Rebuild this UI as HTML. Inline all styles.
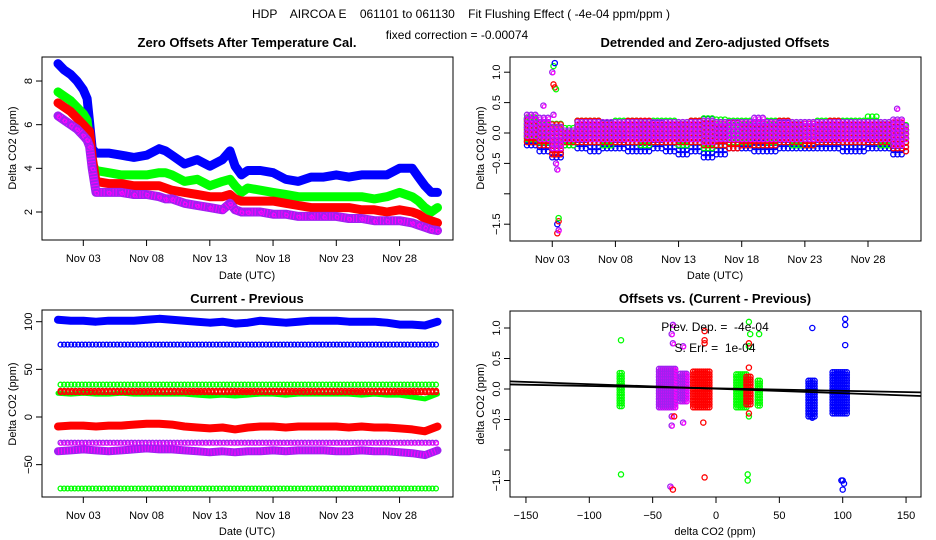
<!DOCTYPE html>
<html><head><meta charset="utf-8"><style>
html,body{margin:0;padding:0;background:#fff;}
svg{display:block;font-family:"Liberation Sans",sans-serif;}
.t{font-size:12px;fill:#000;white-space:pre}
.pt{font-size:13px;font-weight:bold;fill:#000}
.tk{font-size:11px;fill:#000}
</style></head><body>
<svg id="root" width="936" height="540" viewBox="0 0 936 540">
<defs>
<clipPath id="c1"><rect x="42" y="57" width="411" height="183"/></clipPath>
<clipPath id="c2"><rect x="510" y="57" width="411" height="184"/></clipPath>
<clipPath id="c3"><rect x="42" y="310" width="411" height="187"/></clipPath>
<clipPath id="c4"><rect x="510" y="311" width="411" height="186"/></clipPath>
</defs>
<text class="t" x="461" y="18" text-anchor="middle" xml:space="preserve">HDP    AIRCOA E    061101 to 061130    Fit Flushing Effect ( -4e-04 ppm/ppm )</text>
<text class="t" x="457" y="39" text-anchor="middle">fixed correction = -0.00074</text>
<text class="pt" x="247" y="47" text-anchor="middle">Zero Offsets After Temperature Cal.</text>
<text class="pt" x="715" y="47" text-anchor="middle">Detrended and Zero-adjusted Offsets</text>
<text class="pt" x="247" y="303" text-anchor="middle">Current - Previous</text>
<text class="pt" x="715" y="303" text-anchor="middle">Offsets vs. (Current - Previous)</text>
</svg>
<script>
// ---------- DATA ----------
const days1 = [1,1.5,2,2.5,3,3.3,3.5,3.7,4,5,6,7,8,9,9.5,10,11,12,13,14,14.6,15,15.5,16,17,18,19,20,21,22,23,24,25,26,27,28,29,29.5,30,30.5,31];
const zeroBlue = [8.8,8.5,8.3,8.0,7.6,7.2,6.1,4.9,4.7,4.7,4.6,4.5,4.6,4.9,4.8,4.6,4.2,4.4,4.1,4.4,4.8,4.1,3.7,3.9,3.9,3.8,3.5,3.4,3.6,3.6,3.7,3.6,3.7,3.7,3.7,4.0,4.0,3.6,3.2,2.9,2.9];
const zeroGreen = [7.5,7.3,7.1,6.8,6.5,6.2,5.2,4.2,3.9,3.8,3.7,3.7,3.7,3.8,3.8,3.7,3.4,3.5,3.2,3.4,3.5,3.2,2.9,3.1,3.0,2.9,2.8,2.7,2.7,2.7,2.7,2.7,2.7,2.6,2.7,2.9,2.7,2.5,2.2,2.0,2.2];
const zeroRed = [7.0,6.8,6.6,6.3,6.0,5.8,5.7,4.5,3.4,3.3,3.3,3.2,3.2,3.2,3.1,3.0,2.9,2.8,2.7,2.7,2.8,2.6,2.5,2.5,2.5,2.5,2.4,2.3,2.2,2.2,2.2,2.2,2.1,2.1,2.0,2.1,2.0,1.9,1.7,1.6,1.5];
const zeroPurple = [6.4,6.2,6.0,5.8,5.5,5.3,5.0,4.0,2.9,2.9,2.9,2.8,2.8,2.7,2.6,2.6,2.4,2.3,2.2,2.1,2.4,2.1,2.0,2.0,2.0,1.9,1.9,1.8,1.8,1.8,1.8,1.7,1.7,1.6,1.6,1.6,1.5,1.4,1.3,1.2,1.15];
const dateTicks = [3,8,13,18,23,28];
const dateLabels = ["Nov 03","Nov 08","Nov 13","Nov 18","Nov 23","Nov 28"];
const p1YTicks = [2,4,6,8];

const days2 = [1,2,3,4,5,6,7,8,9,10,11,12,13,14,15,16,17,18,19,20,21,22,23,24,25,26,27,28,29,30,31];
const residHiBlue = [.25,.1,.15,0,.1,.15,.2,.15,.2,.25,.2,.15,.2,.2,.25,.2,.2,.15,.15,.2,.2,.15,.15,.15,.15,.2,.15,.15,.15,.2,.1];
const residLoBlue = [-.2,-.3,-.4,-.2,-.25,-.3,-.25,-.25,-.3,-.3,-.25,-.3,-.35,-.3,-.4,-.35,-.25,-.25,-.3,-.3,-.25,-.25,-.25,-.25,-.25,-.3,-.3,-.25,-.25,-.35,-.3];
const residHiGreen = [.25,.15,.2,.1,.2,.2,.15,.2,.2,.2,.2,.2,.2,.25,.25,.25,.2,.2,.2,.2,.2,.2,.2,.2,.2,.2,.2,.3,.2,.2,.15];
const residLoGreen = [-.1,-.15,-.2,-.2,-.15,-.15,-.2,-.15,-.15,-.2,-.15,-.15,-.2,-.15,-.25,-.2,-.15,-.15,-.2,-.15,-.15,-.2,-.2,-.15,-.15,-.15,-.15,-.15,-.2,-.2,-.15];
const residHiRed = [.2,.15,.2,.05,.2,.2,.15,.15,.2,.2,.15,.15,.15,.2,.2,.2,.2,.2,.2,.2,.2,.15,.15,.15,.2,.15,.15,.15,.15,.2,.1];
const residLoRed = [-.15,-.2,-.35,-.15,-.15,-.15,-.15,-.15,-.15,-.15,-.15,-.15,-.15,-.15,-.2,-.2,-.25,-.2,-.2,-.2,-.15,-.15,-.2,-.15,-.15,-.15,-.15,-.15,-.15,-.25,-.3];
const residHiPurple = [.3,.3,.15,.1,.2,.2,.2,.2,.2,.2,.2,.2,.2,.2,.25,.2,.2,.2,.25,.2,.2,.2,.2,.2,.2,.2,.2,.2,.2,.25,.15];
const residLoPurple = [-.05,-.1,-.25,-.1,-.1,-.1,-.1,-.1,-.1,-.1,-.1,-.1,-.1,-.1,-.15,-.1,-.1,-.1,-.1,-.1,-.1,-.1,-.1,-.1,-.1,-.1,-.1,-.1,-.1,-.2,-.1];
const spikeT = [3.0,3.1,3.2,3.2,3.3,3.1,3.2,3.3,3.4,3.4,3.5,3.4,3.5,3.5,2.3,3.1,30.3];
const spikeV = [1.0,1.1,1.15,0.75,0.72,0.8,-0.35,-0.5,-0.6,-1.5,-1.45,-1.65,-1.6,-1.4,0.45,0.3,0.4];
const spikeColor = ["purple","green","blue","red","green","red","red","purple","purple","blue","red","red","purple","green","purple","purple","purple"];
const p2YTicks = [1.0,0.5,0.0,-0.5,-1.0,-1.5];
const p2YLabels = ["1.0","0.5","0.0","\u22120.5","","\u22121.5"];

const diffBlueMain = [102,101,101,100,101,101,101,102,103,102,101,100,99,100,98,99,101,100,99,100,101,101,101,100,100,100,99,97,97,96,100];
const diffRedMain = [-10,-9,-9,-10,-9,-9,-8,-7,-7,-8,-10,-11,-12,-11,-13,-11,-10,-10,-11,-10,-10,-10,-10,-11,-10,-11,-11,-12,-13,-15,-10];
const diffPurpleMain = [-36,-35,-34,-35,-36,-35,-34,-33,-34,-34,-35,-36,-37,-36,-37,-36,-36,-35,-36,-35,-35,-35,-36,-36,-35,-36,-36,-37,-38,-40,-35];
const diffGreen25 = [25,24,25,24,24,25,24,24,24,24,24,23,22,23,22,23,24,24,23,24,24,24,24,24,23,24,23,23,21,19,24];
const diffLevels = [76,34,26,-27,-75];
const diffLevelColor = ["blue","green","red","purple","green"];
const p3YTicks = [100,50,0,-50];

const clXlo = [-76,-45,-28,-18,16,24,33,73,92];
const clXhi = [-74,-31,-23,-5,25,28,36,78,104];
const clYlo = [-0.28,-0.3,-0.2,-0.3,-0.3,-0.25,-0.27,-0.45,-0.4];
const clYhi = [0.3,0.35,0.25,0.3,0.25,0.2,0.17,0.17,0.3];
const clColor = ["green","purple","purple","red","green","red","green","blue","blue"];
const outX = [-75,-75,-34,-35,-34,-26,-35,-35,-26,-36,-9,-9,-9,-10,-9,-34,-33,26,27,34,26,25,25,26,26,26,26,76,102,102,102,76,100,101,100,99];
const outY = [0.8,-1.4,1.05,0.9,0.75,0.7,-0.45,-0.6,-0.55,-1.6,0.95,0.8,0.75,-0.55,-1.45,-1.65,-0.45,1.1,0.9,0.9,-0.45,-1.4,-1.5,0.7,0.75,0.35,-0.4,1.0,1.15,1.05,0.72,-0.47,-1.5,-1.55,-1.65,-1.5];
const outColor = ["green","green","purple","purple","purple","purple","purple","purple","purple","purple","red","red","red","red","red","red","red","green","green","green","green","green","green","green","red","red","red","blue","blue","blue","blue","blue","blue","blue","blue","blue"];
const fitIntercept = [0.01,0.005];
const fitSlope = [-0.0004,-0.00074];
const p4XTicks = [-150,-100,-50,0,50,100,150];
const p4XLabels = ["\u2212150","\u2212100","\u221250","0","50","100","150"];

// ---------- HELPERS ----------
const NS = "http://www.w3.org/2000/svg";
const root = document.getElementById("root");
const COL = {blue:"#0000ff",green:"#00ff00",red:"#ff0000",purple:"#a020f0"};
function mk(tag, attrs, parent){
  const e = document.createElementNS(NS, tag);
  for (const k in attrs) e.setAttribute(k, attrs[k]);
  (parent||root).appendChild(e);
  return e;
}
function group(name, clip){
  const g = mk("g", clip ? {"clip-path":"url(#"+clip+")"} : {});
  
  
  return g;
}
function circ(g, x, y, color, r){
  const c = mk("circle", {cx:x.toFixed(1), cy:y.toFixed(1), r:r||2.6, fill:"none", stroke:COL[color], "stroke-width":1.3}, g);
  
  
  if (color === "purple") {
    const c2 = mk("circle", {cx:(x+0.8).toFixed(1), cy:(y+0.8).toFixed(1), r:1.8, fill:"none", stroke:"#ff00ff", "stroke-width":1}, g);
    
    
  }
}
function frame(name, x0, y0, x1, y1){
  const r = mk("rect", {x:x0, y:y0, width:x1-x0, height:y1-y0, fill:"none", stroke:"#000", "stroke-width":1});
  
  
}
function xAxis(name, vals, labels, fx, yb){
  const g = group(name);
  vals.forEach((v,i)=>{
    const x = fx(v);
    mk("line", {x1:x, x2:x, y1:yb, y2:yb+6, stroke:"#000"}, g);
    const t = mk("text", {x:x, y:yb+22, "text-anchor":"middle", class:"tk"}, g);
    t.textContent = labels[i];
    
    
  });
}
function yAxis(name, vals, labels, fy, xl){
  const g = group(name);
  vals.forEach((v,i)=>{
    const y = fy(v);
    mk("line", {x1:xl-6, x2:xl, y1:y, y2:y, stroke:"#000"}, g);
    const t = mk("text", {x:0, y:0, "text-anchor":"middle", class:"tk", transform:"translate("+(xl-10)+","+y+") rotate(-90)"}, g);
    t.textContent = labels[i];
    
    
  });
}
function label(name, txt, x, y, rot){
  const t = mk("text", {x:0, y:0, "text-anchor":"middle", class:"tk", transform:"translate("+x+","+y+")"+(rot?" rotate(-90)":"")});
  t.textContent = txt;
  
  
}

// ---------- PANEL 1 ----------
const x1 = d => 58 + (d-1)*12.65;
const y1 = v => 212 - (v-2)*21.83;
{
  const g = group("panel1-series", "c1");
  [[zeroBlue,"blue"],[zeroGreen,"green"],[zeroRed,"red"],[zeroPurple,"purple"]].forEach(([arr,col])=>{
    const pts = days1.map((d,i)=>x1(d).toFixed(1)+","+y1(arr[i]).toFixed(1)).join(" ");
    const pl = mk("polyline", {points:pts, fill:"none", stroke:COL[col], "stroke-width":9, "stroke-linejoin":"round", "stroke-linecap":"round"}, g);
    
    
    if (col==="purple") {
      const pl2 = mk("polyline", {points:pts, fill:"none", stroke:"#ff00ff", "stroke-width":7, "stroke-dasharray":"1 2"}, g);
      
      
    }
    days1.forEach((d,i)=>circ(g, x1(d), y1(arr[i]), col, 3));
  });
}
frame("panel1-frame", 42, 57, 453, 240);
xAxis("panel1-x-axis", dateTicks, dateLabels, x1, 240);
yAxis("panel1-y-axis", p1YTicks, p1YTicks.map(String), y1, 42);
label("panel1-x-title", "Date (UTC)", 247, 279);
label("panel1-y-title", "Delta CO2 (ppm)", 16, 148, true);

// ---------- PANEL 2 ----------
const x2 = d => 527 + (d-1)*12.63;
const y2 = v => 133 - v*60.8;
{
  const g = group("panel2-series", "c2");
  [[residHiBlue,residLoBlue,"blue"],[residHiGreen,residLoGreen,"green"],[residHiRed,residLoRed,"red"],[residHiPurple,residLoPurple,"purple"]].forEach(([hi,lo,col])=>{
    days2.forEach((d,i)=>{
      if (d >= 31) { for (let v=lo[i]; v<=hi[i]; v+=0.07) circ(g, x2(d), y2(v), col); return; }
      for (let s=0; s<3; s++) {
        for (let v=lo[i]; v<=hi[i]+1e-6; v+=0.07) circ(g, x2(d+s/3), y2(v), col);
      }
    });
  });
  spikeT.forEach((t,i)=>circ(g, x2(t), y2(spikeV[i]), spikeColor[i]));
}
frame("panel2-frame", 510, 57, 921, 241);
xAxis("panel2-x-axis", dateTicks, dateLabels, x2, 241);
yAxis("panel2-y-axis", p2YTicks, p2YLabels, y2, 510);
label("panel2-x-title", "Date (UTC)", 715, 279);
label("panel2-y-title", "Delta CO2 (ppm)", 484, 148, true);

// ---------- PANEL 3 ----------
const y3 = v => 417 - v*0.953;
{
  const g = group("panel3-series", "c3");
  diffLevels.forEach((lv,k)=>{
    for (let d=1.2; d<=31; d+=0.28) circ(g, x1(d), y3(lv), diffLevelColor[k], 2.4);
  });
  [[diffGreen25,"green"],[diffBlueMain,"blue"],[diffRedMain,"red"],[diffPurpleMain,"purple"]].forEach(([arr,col])=>{
    const pts = days2.map((d,i)=>x1(d).toFixed(1)+","+y3(arr[i]).toFixed(1)).join(" ");
    const pl = mk("polyline", {points:pts, fill:"none", stroke:COL[col], "stroke-width":col==="green"?5:8, "stroke-linejoin":"round", "stroke-linecap":"round"}, g);
    
    
    if (col==="purple") {
      const pl2 = mk("polyline", {points:pts, fill:"none", stroke:"#ff00ff", "stroke-width":6, "stroke-dasharray":"1 2"}, g);
      
      
    }
  });
  for (let d=1.2; d<=31; d+=0.3) { circ(g, x1(d), y3(26), "red", 2.4); circ(g, x1(d), y3(27.5), "red", 2.4); }
}
frame("panel3-frame", 42, 310, 453, 497);
xAxis("panel3-x-axis", dateTicks, dateLabels, x1, 497);
yAxis("panel3-y-axis", p3YTicks, p3YTicks.map(v=>v<0?"\u2212"+(-v):String(v)), y3, 42);
label("panel3-x-title", "Date (UTC)", 247, 535);
label("panel3-y-title", "Delta CO2 (ppm)", 16, 404, true);

// ---------- PANEL 4 ----------
const x4 = v => 716 + v*1.267;
const y4 = v => 389 - v*61;
{
  const g = group("panel4-series", "c4");
  clXlo.forEach((xl,k)=>{
    for (let xv=xl; xv<=clXhi[k]+1e-6; xv+=1.6)
      for (let yv=clYlo[k]; yv<=clYhi[k]+1e-6; yv+=0.045) circ(g, x4(xv), y4(yv), clColor[k]);
  });
  outX.forEach((xv,i)=>circ(g, x4(xv), y4(outY[i]), outColor[i]));
  fitIntercept.forEach((b,k)=>{
    const ln = mk("line", {x1:x4(-170), y1:y4(b+fitSlope[k]*-170), x2:x4(170), y2:y4(b+fitSlope[k]*170), stroke:"#000", "stroke-width":1.8}, g);
    
    
  });
}
frame("panel4-frame", 510, 311, 921, 497);
xAxis("panel4-x-axis", p4XTicks, p4XLabels, x4, 497);
yAxis("panel4-y-axis", p2YTicks, p2YLabels, y4, 510);
label("panel4-x-title", "delta CO2 (ppm)", 715, 535);
label("panel4-y-title", "delta CO2 (ppm)", 484, 404, true);
{
  const t1 = mk("text", {x:715, y:331, "text-anchor":"middle", class:"t"});
  t1.textContent = "Prev. Dep. =  -4e-04";
  
  
  const t2 = mk("text", {x:715, y:352, "text-anchor":"middle", class:"t"});
  t2.textContent = "S. Err. =  1e-04";
  
  
}
</script>
</body></html>
